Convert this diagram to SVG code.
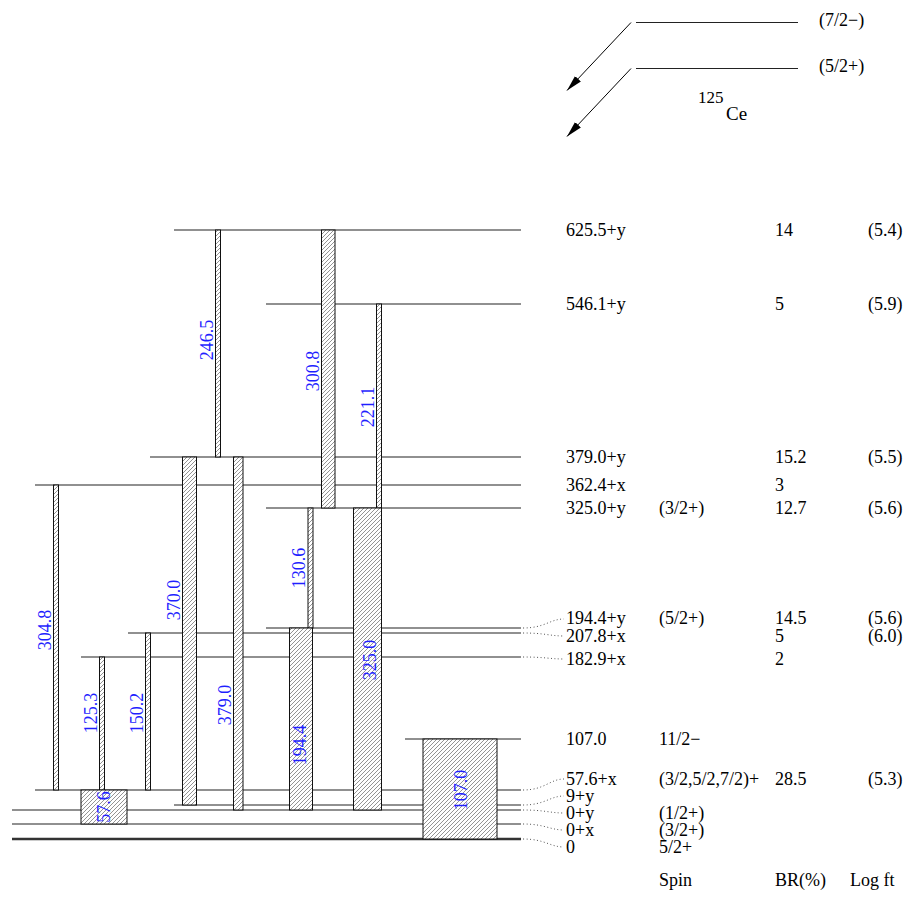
<svg xmlns="http://www.w3.org/2000/svg" width="917" height="907" viewBox="0 0 917 907" font-family="'Liberation Serif', 'Times New Roman', 'DejaVu Serif', serif">
<style>
text{font-family:'Liberation Serif','Times New Roman','DejaVu Serif',serif;font-size:18px;fill:#000}
.lvl{stroke:#222;stroke-width:1.2;fill:none}
.gnd{stroke:#333;stroke-width:2.4;fill:none}
.tr{fill:url(#hatch);stroke:#111;stroke-width:1}
.en{font-size:18px;fill:#1f1fff;text-anchor:middle}
.dot{stroke:#555;stroke-width:1;fill:none;stroke-dasharray:1 2.5}
.arr{stroke:#000;stroke-width:1;fill:none;marker-end:url(#ah)}
</style>
<defs>
<pattern id="hatch" patternUnits="userSpaceOnUse" width="4" height="4">
<rect width="4" height="4" fill="#fff"/>
<path d="M-1,1 L1,-1 M0,4 L4,0 M3,5 L5,3" stroke="#666" stroke-width="0.7"/>
</pattern>
<marker id="ah" markerUnits="userSpaceOnUse" markerWidth="18" markerHeight="10" refX="16" refY="5" orient="auto">
<path d="M0,1 L16,5 L0,9 Z" fill="#000"/>
</marker>
</defs>

<g id="parent">
<line class="lvl" x1="636" y1="22.5" x2="798" y2="22.5"/>
<line class="lvl" x1="636" y1="68.5" x2="798" y2="68.5"/>
<text x="819" y="26">(7/2−)</text>
<text x="819" y="72">(5/2+)</text>
<text x="698" y="103" style="font-size:17px">125</text>
<text x="726" y="120" style="font-size:19px">Ce</text>
</g>

<g id="connectors">
<line class="arr" x1="631" y1="22.5" x2="567" y2="90.5"/>
<line class="arr" x1="631" y1="68.5" x2="567" y2="136.5"/>
<path class="dot" d="M523,628 C545,628 550,619 564,619"/>
<path class="dot" d="M523,633 C545,633 550,636 564,636"/>
<path class="dot" d="M523,657 C545,657 550,659 564,659"/>
<path class="dot" d="M523,790 C545,790 550,779 564,779"/>
<path class="dot" d="M523,805 C545,805 550,796 564,796"/>
<path class="dot" d="M523,810 C545,810 550,813 564,813"/>
<path class="dot" d="M523,824 C545,824 550,830 564,830"/>
<path class="dot" d="M523,839 C545,839 550,847 564,847"/>
</g>

<g id="levels">
<line class="lvl" x1="174" y1="230" x2="521" y2="230"/>
<line class="lvl" x1="266" y1="304" x2="521" y2="304"/>
<line class="lvl" x1="150" y1="457" x2="521" y2="457"/>
<line class="lvl" x1="35" y1="485" x2="521" y2="485"/>
<line class="lvl" x1="266" y1="508" x2="521" y2="508"/>
<line class="lvl" x1="266" y1="628" x2="521" y2="628"/>
<line class="lvl" x1="128" y1="633" x2="521" y2="633"/>
<line class="lvl" x1="81" y1="657" x2="521" y2="657"/>
<line class="lvl" x1="405" y1="739" x2="521" y2="739"/>
<line class="lvl" x1="35" y1="790" x2="521" y2="790"/>
<line class="lvl" x1="174" y1="805" x2="521" y2="805"/>
<line class="lvl" x1="12" y1="810" x2="521" y2="810"/>
<line class="lvl" x1="12" y1="824" x2="521" y2="824"/>
<line class="gnd" x1="12" y1="839" x2="521" y2="839"/>
</g>

<g id="transitions">
<rect class="tr" x="215.5" y="230" width="5" height="227"/>
<rect class="tr" x="321.5" y="230" width="13.5" height="278"/>
<rect class="tr" x="376.5" y="304" width="5" height="204"/>
<rect class="tr" x="53.5" y="485" width="5" height="305"/>
<rect class="tr" x="182.5" y="457" width="14" height="348"/>
<rect class="tr" x="233.5" y="457" width="9.5" height="353"/>
<rect class="tr" x="308" y="508" width="5" height="120"/>
<rect class="tr" x="353.5" y="508" width="28" height="302"/>
<rect class="tr" x="99.5" y="657" width="5" height="133"/>
<rect class="tr" x="145.5" y="633" width="5" height="157"/>
<rect class="tr" x="289.5" y="628" width="23" height="182"/>
<rect class="tr" x="81" y="790" width="46" height="34"/>
<rect class="tr" x="423" y="739" width="74" height="100"/>
</g>

<g id="gamma-labels">
<text class="en" transform="translate(213,340) rotate(-90)">246.5</text>
<text class="en" transform="translate(319,371) rotate(-90)">300.8</text>
<text class="en" transform="translate(374,407) rotate(-90)">221.1</text>
<text class="en" transform="translate(51,630) rotate(-90)">304.8</text>
<text class="en" transform="translate(180,600) rotate(-90)">370.0</text>
<text class="en" transform="translate(231,705) rotate(-90)">379.0</text>
<text class="en" transform="translate(305,568) rotate(-90)">130.6</text>
<text class="en" transform="translate(376,660) rotate(-90)">325.0</text>
<text class="en" transform="translate(97,713) rotate(-90)">125.3</text>
<text class="en" transform="translate(143,713) rotate(-90)">150.2</text>
<text class="en" transform="translate(306,745) rotate(-90)">194.4</text>
<text class="en" transform="translate(110,807) rotate(-90)">57.6</text>
<text class="en" transform="translate(467,790) rotate(-90)">107.0</text>
</g>

<g id="level-labels">
<text x="566" y="236">625.5+y</text>
<text x="566" y="310">546.1+y</text>
<text x="566" y="463">379.0+y</text>
<text x="566" y="491">362.4+x</text>
<text x="566" y="514">325.0+y</text>
<text x="566" y="624">194.4+y</text>
<text x="566" y="642">207.8+x</text>
<text x="566" y="665">182.9+x</text>
<text x="566" y="745">107.0</text>
<text x="566" y="785">57.6+x</text>
<text x="566" y="802">9+y</text>
<text x="566" y="819">0+y</text>
<text x="566" y="836">0+x</text>
<text x="566" y="853">0</text>
</g>

<g id="spin">
<text x="659" y="514">(3/2+)</text>
<text x="659" y="624">(5/2+)</text>
<text x="659" y="745">11/2−</text>
<text x="659" y="785">(3/2,5/2,7/2)+</text>
<text x="659" y="819">(1/2+)</text>
<text x="659" y="836">(3/2+)</text>
<text x="659" y="853">5/2+</text>
<text x="659" y="886">Spin</text>
</g>

<g id="br">
<text x="775" y="236">14</text>
<text x="775" y="310">5</text>
<text x="775" y="463">15.2</text>
<text x="775" y="491">3</text>
<text x="775" y="514">12.7</text>
<text x="775" y="624">14.5</text>
<text x="775" y="642">5</text>
<text x="775" y="665">2</text>
<text x="775" y="785">28.5</text>
<text x="775" y="886">BR(%)</text>
</g>

<g id="logft">
<text x="868" y="236">(5.4)</text>
<text x="868" y="310">(5.9)</text>
<text x="868" y="463">(5.5)</text>
<text x="868" y="514">(5.6)</text>
<text x="868" y="624">(5.6)</text>
<text x="868" y="642">(6.0)</text>
<text x="868" y="785">(5.3)</text>
<text x="850" y="886">Log ft</text>
</g>
</svg>
